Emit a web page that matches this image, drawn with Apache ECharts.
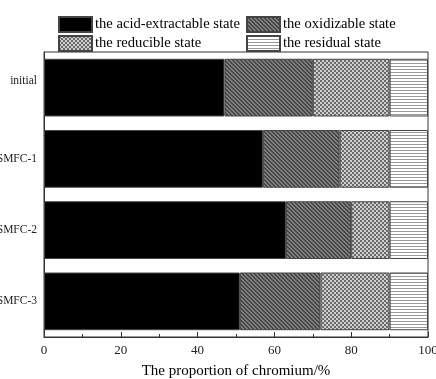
<!DOCTYPE html>
<html><head><meta charset="utf-8">
<script src="https://cdn.jsdelivr.net/npm/echarts@6/dist/echarts.min.js"></script>
<style>html,body{margin:0;padding:0;background:#fff}#c{width:436px;height:379px}</style>
</head><body><div id="c"></div>
<script>
const categories = ['initial', 'SMFC-1', 'SMFC-2', 'SMFC-3'];
const acidExtractable = [47, 57, 63, 51];
const oxidizable = [23, 20, 17, 21];
const reducible = [20, 13, 10, 18];
const residual = [10, 10, 10, 10];
const seriesNames = ['the acid-extractable state', 'the oxidizable state', 'the reducible state', 'the residual state'];
const xTicks = [0, 20, 40, 60, 80, 100];

function makePattern(type) {
  const c = document.createElement('canvas');
  const ctx = c.getContext('2d');
  if (type === 'diag') {
    c.width = 4; c.height = 4;
    ctx.fillStyle = '#808080'; ctx.fillRect(0, 0, 4, 4);
    ctx.fillStyle = '#454545';
    for (let i = 0; i < 4; i++) { ctx.fillRect(i, i, 1, 1); ctx.fillRect((i + 1) % 4, i, 1, 1); }
  } else if (type === 'check') {
    c.width = 4; c.height = 4;
    ctx.fillStyle = '#cfcfcf'; ctx.fillRect(0, 0, 4, 4);
    ctx.fillStyle = '#6a6a6a';
    ctx.fillRect(0, 0, 2, 2); ctx.fillRect(2, 2, 2, 2);
  } else {
    c.width = 4; c.height = 3;
    ctx.fillStyle = '#ffffff'; ctx.fillRect(0, 0, 4, 3);
    ctx.fillStyle = '#9a9a9a'; ctx.fillRect(0, 0, 4, 1);
  }
  return { image: c, repeat: 'repeat' };
}

const fills = ['#000000', makePattern('diag'), makePattern('check'), makePattern('hline')];
const dataSets = [acidExtractable, oxidizable, reducible, residual];
const font = 'Liberation Serif';
const legendText = { fontFamily: font, fontSize: 14.6, color: '#000', padding: [0, 0, 0, -2] };

const chart = echarts.init(document.getElementById('c'), null, { renderer: 'canvas' });
chart.setOption({
  animation: false,
  textStyle: { fontFamily: font },
  legend: [
    { data: [seriesNames[0], seriesNames[2]], orient: 'vertical', left: 58, top: 16, itemWidth: 33, itemHeight: 15, itemGap: 2,
      icon: 'rect', textStyle: legendText, padding: 0 },
    { data: [seriesNames[1], seriesNames[3]], orient: 'vertical', left: 246, top: 16, itemWidth: 33, itemHeight: 15, itemGap: 2,
      icon: 'rect', textStyle: legendText, padding: 0 }
  ],
  grid: { left: 44, right: 8, top: 52, bottom: 42, show: true, borderColor: '#333', borderWidth: 1,
    containLabel: false, outerBoundsMode: 'none' },
  xAxis: {
    type: 'value', min: xTicks[0], max: xTicks[xTicks.length - 1], interval: 20,
    name: 'The proportion of chromium/%', nameLocation: 'middle', nameGap: 27,
    nameTextStyle: { fontFamily: font, fontSize: 15, color: '#000' },
    axisLine: { show: true, lineStyle: { color: '#333' } },
    axisTick: { show: true, inside: true, length: 5, lineStyle: { color: '#333' } },
    minorTick: { show: true, splitNumber: 2, length: 3, lineStyle: { color: '#333' } },
    axisLabel: { fontFamily: font, fontSize: 13, color: '#222', margin: 7 },
    splitLine: { show: false }
  },
  yAxis: {
    type: 'category', data: categories, inverse: true,
    axisLine: { show: true, lineStyle: { color: '#333' } },
    axisTick: { show: false },
    axisLabel: { fontFamily: font, fontSize: 11.5, color: '#222', margin: 7,
      formatter: (v, i) => i === 0 ? '{up|' + v + '}' : v,
      rich: { up: { fontFamily: font, fontSize: 11.5, color: '#222', padding: [0, 0, 14, 0] } } }
  },
  series: seriesNames.map((n, i) => ({
    name: n, type: 'bar', stack: 'total', barCategoryGap: '19%',
    data: dataSets[i],
    itemStyle: { color: fills[i], borderColor: '#444', borderWidth: 1 }
  }))
});
</script>
</body></html>
